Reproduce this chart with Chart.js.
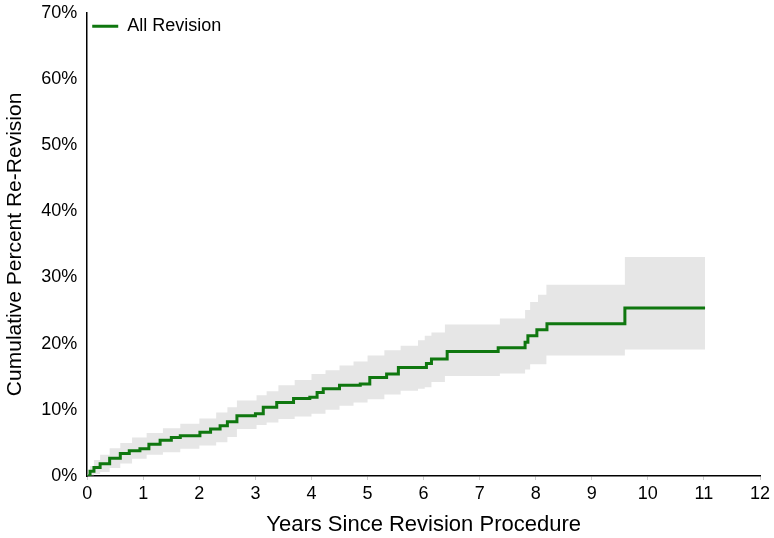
<!DOCTYPE html>
<html>
<head>
<meta charset="utf-8">
<script src="https://cdn.jsdelivr.net/npm/chart.js@4/dist/chart.umd.min.js"></script>
<style>
  body { margin: 0; background: #fff; }
  #wrap { width: 774px; height: 538px; }
</style>
</head>
<body>
<div id="wrap"><canvas id="myChart"></canvas></div>
<script>
// data (years, percent)
const lineYears = [0, 0.05, 0.12, 0.23, 0.4, 0.59, 0.75, 0.94, 1.1, 1.3, 1.5, 1.66, 2.01, 2.2, 2.37, 2.5, 2.67, 3.0, 3.14, 3.38, 3.68, 3.97, 4.1, 4.21, 4.5, 4.87, 5.04, 5.34, 5.55, 6.05, 6.14, 6.42, 7.33, 7.81, 7.86, 8.02, 8.2, 9.59, 11.02];
const lineValues = [0, 0.7, 1.3, 1.85, 2.7, 3.4, 3.8, 4.1, 4.8, 5.4, 5.8, 6.1, 6.6, 7.1, 7.6, 8.2, 9.1, 9.4, 10.4, 11.1, 11.7, 11.9, 12.6, 13.2, 13.7, 13.9, 14.9, 15.4, 16.4, 17.0, 17.7, 18.8, 19.4, 20.2, 21.2, 22.1, 23.0, 25.4, 25.4];

const bandYears = [0, 0.05, 0.12, 0.23, 0.4, 0.59, 0.8, 1.06, 1.35, 1.66, 2.0, 2.3, 2.5, 2.67, 3.02, 3.2, 3.41, 3.7, 4.0, 4.25, 4.5, 4.75, 5.0, 5.3, 5.59, 5.9, 6.02, 6.14, 6.38, 7.36, 7.81, 7.9, 8.04, 8.19, 9.59, 11.02];
const upperValues = [0.3, 1.5, 2.4, 3.2, 4.2, 5.0, 5.8, 6.5, 7.2, 7.9, 8.7, 9.6, 10.4, 11.4, 12.2, 12.8, 13.7, 14.5, 15.4, 16.0, 16.7, 17.3, 18.2, 19.0, 19.7, 20.5, 21.2, 21.7, 22.9, 23.8, 25.1, 26.3, 27.4, 28.9, 33.1, 33.1];
const lowerValues = [0, 0.1, 0.3, 0.6, 1.2, 1.9, 2.6, 3.2, 3.6, 4.1, 4.6, 5.1, 5.9, 7.1, 7.7, 8.1, 8.6, 9.0, 9.4, 10.0, 10.6, 11.1, 11.6, 12.3, 12.9, 13.2, 13.4, 14.2, 15.1, 15.5, 16.1, 16.9, 16.9, 18.2, 19.1, 19.1];

const xTicks = [0, 1, 2, 3, 4, 5, 6, 7, 8, 9, 10, 11, 12];
const yTicks = [0, 10, 20, 30, 40, 50, 60, 70];

const toPoints = (xs, ys) => xs.map((x, i) => ({ x: x, y: ys[i] }));

Chart.defaults.font.family = '"Liberation Sans", Arial, Helvetica, sans-serif';
Chart.defaults.color = '#000';

const ctx = document.getElementById('myChart').getContext('2d');
const myChart = new Chart(ctx, {
  type: 'line',
  data: {
    datasets: [
      {
        label: 'All Revision',
        data: toPoints(lineYears, lineValues),
        borderColor: '#0f770f',
        borderWidth: 3,
        stepped: true,
        pointRadius: 0,
        fill: false,
        order: 0
      },
      {
        label: 'upper',
        data: toPoints(bandYears, upperValues),
        borderWidth: 0,
        borderColor: 'rgba(0,0,0,0)',
        backgroundColor: '#e6e6e6',
        stepped: true,
        pointRadius: 0,
        fill: '+1',
        order: 1
      },
      {
        label: 'lower',
        data: toPoints(bandYears, lowerValues),
        borderWidth: 0,
        borderColor: 'rgba(0,0,0,0)',
        stepped: true,
        pointRadius: 0,
        fill: false,
        order: 2
      }
    ]
  },
  options: {
    responsive: true,
    maintainAspectRatio: false,
    animation: false,
    layout: { padding: { top: -4, right: 14, left: 3, bottom: 0 } },
    plugins: {
      tooltip: { enabled: false },
      legend: {
        position: 'chartArea',
        align: 'start',
        title: { display: true, text: '', font: { size: 1 }, padding: { top: 11, bottom: 0 } },
        labels: {
          filter: item => item.text === 'All Revision',
          usePointStyle: true,
          pointStyle: 'line',
          pointStyleWidth: 26,
          font: { size: 18 },
          color: '#000',
          padding: 5
        }
      }
    },
    scales: {
      x: {
        type: 'linear',
        min: 0,
        max: 12,
        afterBuildTicks: axis => { axis.ticks = xTicks.map(v => ({ value: v })); },
        grid: { display: true, drawOnChartArea: false, tickLength: 4, color: '#ccc' },
        border: { display: true, color: '#000', width: 1.5 },
        ticks: { font: { size: 18 }, color: '#000', padding: 3 },
        title: { display: true, text: 'Years Since Revision Procedure', font: { size: 22 }, color: '#000', padding: { top: 4, bottom: 0 } }
      },
      y: {
        min: 0,
        max: 70,
        afterBuildTicks: axis => { axis.ticks = yTicks.map(v => ({ value: v })); },
        grid: { display: false },
        border: { display: true, color: '#000', width: 1.5 },
        ticks: { font: { size: 18 }, color: '#000', padding: 2, callback: v => v + '%' },
        title: { display: true, text: 'Cumulative Percent Re-Revision', font: { size: 21 }, color: '#000', padding: { top: 0, bottom: 11 } }
      }
    }
  }
});
</script>
</body>
</html>
